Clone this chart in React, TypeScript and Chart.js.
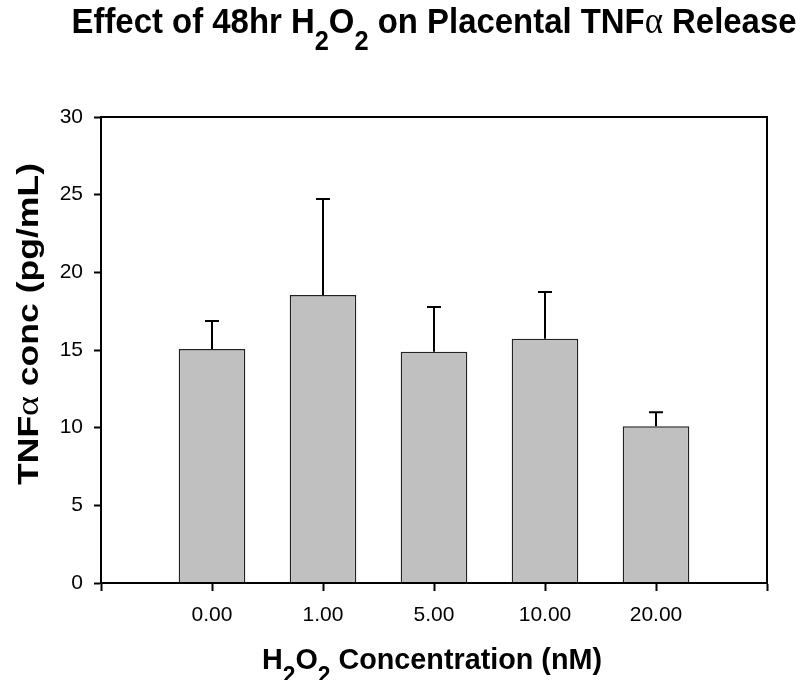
import React, { useEffect, useRef } from 'react';
import { Chart, registerables } from 'chart.js';

Chart.register(...registerables);

// ---- data ----
const categories: string[] = ['0.00', '1.00', '5.00', '10.00', '20.00'];
const meanValues: number[] = [15.07, 18.54, 14.89, 15.73, 10.09];
const errorValues: number[] = [1.8, 6.18, 2.88, 3.01, 0.9];
const yMin = 0;
const yMax = 30;
const yStep = 5;

type Seg = { t: string; sub?: boolean; greek?: boolean };
const titleSegs: Seg[] = [
  { t: 'Effect of 48hr H' }, { t: '2', sub: true }, { t: 'O' }, { t: '2', sub: true },
  { t: ' on Placental TNF' }, { t: 'α', greek: true }, { t: ' Release' },
];
const xTitleSegs: Seg[] = [
  { t: 'H' }, { t: '2', sub: true }, { t: 'O' }, { t: '2', sub: true }, { t: ' Concentration (nM)' },
];
const yTitleSegs: Seg[] = [{ t: 'TNF' }, { t: 'α', greek: true }, { t: ' conc (pg/mL)' }];

function segFont(s: Seg, size: number): string {
  if (s.greek) return `${Math.round(size * 1.05)}px "Liberation Serif"`;
  if (s.sub) return `bold ${Math.round(size * 0.78)}px "Liberation Sans"`;
  return `bold ${size}px "Liberation Sans"`;
}

function drawRich(
  ctx: CanvasRenderingContext2D,
  segs: Seg[],
  size: number,
  cx: number,
  baseline: number,
  targetWidth: number,
  rotate: boolean
) {
  ctx.save();
  const widths: number[] = [];
  let w = 0;
  for (const s of segs) {
    ctx.font = segFont(s, size);
    const m = ctx.measureText(s.t).width;
    widths.push(m);
    w += m;
  }
  const sx = targetWidth / w;
  ctx.translate(cx, baseline);
  if (rotate) ctx.rotate(-Math.PI / 2);
  ctx.scale(sx, 1);
  ctx.fillStyle = '#000';
  ctx.textBaseline = 'alphabetic';
  ctx.textAlign = 'left';
  let x = -w / 2;
  segs.forEach((s, i) => {
    ctx.font = segFont(s, size);
    ctx.fillText(s.t, x, s.sub ? size * 0.48 : 0);
    x += widths[i];
  });
  ctx.restore();
}

const decorPlugin = {
  id: 'decor',
  afterDatasetsDraw(chart: any) {
    const ctx: CanvasRenderingContext2D = chart.ctx;
    const xs = chart.scales.x;
    const ys = chart.scales.y;
    const area = chart.chartArea;
    // error bars (upper only)
    ctx.save();
    ctx.strokeStyle = '#000';
    ctx.lineWidth = 2;
    meanValues.forEach((m, i) => {
      const px = xs.getPixelForValue(i + 1);
      const y0 = ys.getPixelForValue(m);
      const y1 = ys.getPixelForValue(m + errorValues[i]);
      ctx.beginPath();
      ctx.moveTo(px, y0);
      ctx.lineTo(px, y1);
      ctx.moveTo(px - 7, y1);
      ctx.lineTo(px + 7, y1);
      ctx.stroke();
    });
    // frame
    ctx.lineWidth = 2;
    ctx.strokeRect(area.left, area.top, area.right - area.left, area.bottom - area.top);
    ctx.restore();
  },
  afterDraw(chart: any) {
    const ctx: CanvasRenderingContext2D = chart.ctx;
    drawRich(ctx, titleSegs, 35, 434, 33, 725, false);
    drawRich(ctx, xTitleSegs, 29, 432, 669, 340, false);
    drawRich(ctx, yTitleSegs, 30, 38, 324, 322, true);
  },
};

export default function App() {
  const ref = useRef<HTMLCanvasElement | null>(null);
  useEffect(() => {
    document.body.style.margin = '0';
    const canvas = ref.current;
    if (!canvas) return;
    const labels = ['', ...categories, ''];
    const data = [null, ...meanValues, null];
    const chart = new Chart(canvas, {
      type: 'bar',
      data: {
        labels,
        datasets: [
          {
            data: data as any,
            backgroundColor: '#c0c0c0',
            borderColor: '#222',
            borderWidth: 1.5,
            categoryPercentage: 1,
            barPercentage: 0.6,
          },
        ],
      },
      options: {
        animation: false,
        responsive: false,
        layout: { padding: { left: 0, top: 117, right: 35, bottom: 0 } },
        plugins: { legend: { display: false }, tooltip: { enabled: false }, title: { display: false } },
        scales: {
          x: {
            type: 'category',
            offset: false,
            grid: {
              display: true,
              offset: false,
              drawOnChartArea: false,
              drawTicks: true,
              tickLength: 8,
              tickWidth: 2,
              tickColor: '#000',
            },
            border: { display: true, color: '#000', width: 2 },
            ticks: {
              color: '#000',
              font: { family: '"Liberation Sans"', size: 21 },
              padding: 12,
              maxRotation: 0,
              autoSkip: false,
            },
            afterFit(scale: any) {
              scale.height = 97;
            },
          },
          y: {
            type: 'linear',
            min: yMin,
            max: yMax,
            grid: {
              display: true,
              drawOnChartArea: false,
              drawTicks: true,
              tickLength: 7,
              tickWidth: 2,
              tickColor: '#000',
            },
            border: { display: true, color: '#000', width: 2 },
            ticks: {
              stepSize: yStep,
              color: '#000',
              font: { family: '"Liberation Sans"', size: 21 },
              padding: 11,
            },
            afterFit(scale: any) {
              scale.width = 101;
            },
          },
        },
      },
      plugins: [decorPlugin],
    });
    return () => chart.destroy();
  }, []);
  return (
    <div style={{ width: 802, height: 680, background: '#fff' }}>
      <canvas ref={ref} width={802} height={680} style={{ display: 'block' }} />
    </div>
  );
}
